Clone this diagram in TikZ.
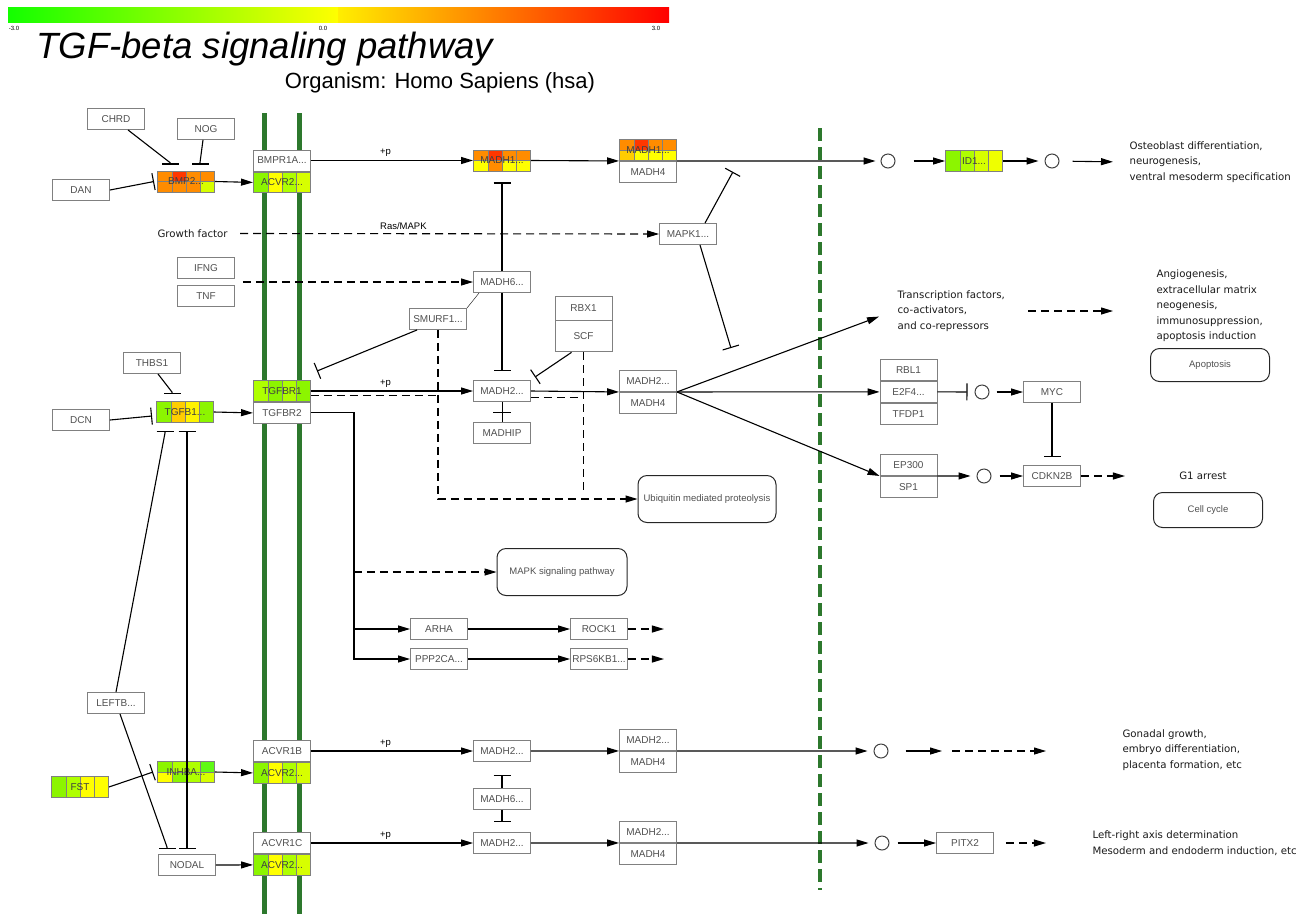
\documentclass[tikz,border=0pt]{standalone}
\usepackage{fontspec}
\setmainfont{Liberation Sans}
\newfontfamily\opisfamily{DejaVu Sans}
\usetikzlibrary{arrows.meta,calc,positioning}

\definecolor{membrana}{RGB}{45,120,45}
\definecolor{ramka}{RGB}{128,128,128}
\definecolor{napis}{RGB}{80,80,80}
\definecolor{ora}{RGB}{255,140,0}
\definecolor{czer}{RGB}{255,55,0}
\definecolor{zol}{RGB}{255,255,0}
\definecolor{zolc}{RGB}{255,205,0}
\definecolor{lim1}{RGB}{140,245,0}
\definecolor{lim2}{RGB}{175,255,0}
\definecolor{lim3}{RGB}{215,255,0}
\definecolor{ziel}{RGB}{95,250,20}

\newcommand{\gfont}{\fontsize{10}{11}\selectfont}
\newcommand{\opisfont}{\opisfamily\fontsize{10.2}{15.5}\selectfont}
\newcommand{\procfont}{\fontsize{9.5}{10}\selectfont}

\tikzset{
	gen/.style={draw=ramka, fill=white, line width=0.9, minimum width=57, minimum height=21, inner sep=0, font=\gfont, text=napis},
	jeden/.style={gen, text=black!75, path picture={
		\foreach \k [count=\i] in {#1}
			\filldraw[fill=\k, draw=ramka, line width=0.5] ($(path picture bounding box.north west)+({(\i-1)*14.25},0)$) rectangle ++(14.25,21);}},
	dwa/.style 2 args={gen, text=black!75, path picture={
		\foreach \k [count=\i] in {#1}
			\filldraw[fill=\k, draw=ramka, line width=0.5] ($(path picture bounding box.north west)+({(\i-1)*14.25},0)$) rectangle ++(14.25,10.5);
		\foreach \k [count=\i] in {#2}
			\filldraw[fill=\k, draw=ramka, line width=0.5] ($(path picture bounding box.north west)+({(\i-1)*14.25},10.5)$) rectangle ++(14.25,10.5);}},
	kolo/.style={circle, draw=black!75, line width=1, minimum size=14, inner sep=0},
	proc/.style={draw=black!85, line width=1, rounded corners=9, font=\procfont, text=napis},
	opis/.style={font=\opisfont, align=left, text=black!90},
	plusp/.style={font=\fontsize{9.5}{10}\selectfont, text=black},
	strz/.style={-{Triangle[length=12pt,width=7pt]}, line width=1.1},
	hamuj/.style={-{Bar[width=17pt]}, line width=1.1},
	przer/.style={dash pattern=on 8pt off 5pt}
}

\begin{document}
\begin{tikzpicture}[x=1pt, y=-1pt]
	\useasboundingbox (0,0) rectangle (1310,914);

	%skala kolorow
	\shade[left color=green!90!lime, right color=zol] (8,7) rectangle (338,22);
	\shade[left color=zol!85!ora, middle color=ora!90!yellow, right color=red] (338,7) rectangle (669,22);
	\node[font=\fontsize{6}{7}\selectfont] at (14,28) {-3.0};
	\node[font=\fontsize{6}{7}\selectfont] at (323,28) {0.0};
	\node[font=\fontsize{6}{7}\selectfont] at (656,28) {3.0};

	%tytul
	\node[anchor=base west, font=\fontsize{36.5}{40}\selectfont\itshape] at (33,58) {TGF-beta signaling pathway};
	\node[font=\fontsize{22}{26}\selectfont] at (440,83) {Organism: Homo Sapiens (hsa)};

	%membrana
	\draw[membrana, line width=5] (264,113) -- (264,914);
	\draw[membrana, line width=5] (299,113) -- (299,914);
	\draw[membrana, line width=4, dash pattern=on 13pt off 6pt] (820,128) -- (820,890);

	%bmp
	\node[gen] (chrd) at (116,119) {CHRD};
	\node[gen] (nog) at (206,129) {NOG};
	\node[gen] (dan) at (81,190) {DAN};
	\node[dwa={ora,czer,ora,ora}{ora,ora,ora,lim3}] (bmp2) at (186,181.5) {BMP2...};
	\node[gen] (bmpr1a) at (282,160.5) {BMPR1A...};
	\node[jeden={lim1,zol,lim2,lim3}, below=0pt of bmpr1a] (acvr2a) {ACVR2...};
	\node[dwa={ora,czer,ora,ora}{zol,ora,zol,zol}] (madh1) at (502,160.5) {MADH1...};
	\node[dwa={ora,czer,ora,ora}{zolc,zol,zol,zol}] (mc1) at (648,150) {MADH1...};
	\node[gen, below=0pt of mc1] (mc1b) {MADH4};
	\node[kolo] (k1) at (888,161) {};
	\node[jeden={lim1,lim2,lim3,zol!60!lim3}] (id1) at (974,161) {ID1...};
	\node[kolo] (k2) at (1052,161) {};
	\node[opis, anchor=west] (osteo) at (1126,162) {Osteoblast differentiation,\\neurogenesis,\\ventral mesoderm specification};

	%srodek
	\node[opis, anchor=west] (growth) at (154,233.5) {Growth factor};
	\node[gen] (mapk1) at (688,234) {MAPK1...};
	\node[gen] (ifng) at (206,268) {IFNG};
	\node[gen] (tnf) at (206,296) {TNF};
	\node[gen] (madh6) at (502,282) {MADH6...};
	\node[gen] (smurf1) at (438,319) {SMURF1...};
	\node[gen, minimum height=24] (rbx1) at (583.5,308) {RBX1};
	\node[gen, minimum height=31, below=0pt of rbx1] (scf) {SCF};

	%tgf-beta
	\node[gen] (thbs1) at (152,363) {THBS1};
	\node[gen] (dcn) at (81,420) {DCN};
	\node[jeden={lim1,zolc,zol!90!ora,lim1}] (tgfb1) at (185,412) {TGFB1...};
	\node[jeden={lim2,lim1,lim2,lim1}] (tgfbr1) at (282,391) {TGFBR1};
	\node[gen, below=0pt of tgfbr1] (tgfbr2) {TGFBR2};
	\node[gen] (madh2) at (502,391) {MADH2...};
	\node[gen] (madhip) at (502,433) {MADHIP};
	\node[gen] (mc2) at (648,381) {MADH2...};
	\node[gen, below=0pt of mc2] (mc2b) {MADH4};

	%prawa strona
	\node[opis, anchor=west] (tf) at (894,311) {Transcription factors,\\co-activators,\\and co-repressors};
	\node[opis, anchor=west] (angio) at (1153,306) {Angiogenesis,\\extracellular matrix\\neogenesis,\\immunosuppression,\\apoptosis induction};
	\node[proc, minimum width=119, minimum height=33] (apop) at (1210,365) {Apoptosis};
	\node[gen] (rbl1) at (908.5,370) {RBL1};
	\node[gen, below=0pt of rbl1] (e2f4) {E2F4...};
	\node[gen, below=0pt of e2f4] (tfdp1) {TFDP1};
	\node[kolo] (k3) at (982,392) {};
	\node[gen] (myc) at (1052,392) {MYC};
	\node[gen] (ep300) at (908.5,465) {EP300};
	\node[gen, below=0pt of ep300] (sp1) {SP1};
	\node[kolo] (k4) at (984,476) {};
	\node[gen] (cdkn2b) at (1052,476) {CDKN2B};
	\node[opis] (g1) at (1203,476) {G1 arrest};
	\node[proc, minimum width=109, minimum height=35] (cc) at (1208,510) {Cell cycle};
	\node[proc, minimum width=138, minimum height=47] (ubiq) at (707,499) {Ubiquitin mediated proteolysis};
	\node[proc, minimum width=130, minimum height=47] (mapkp) at (562,572) {MAPK signaling pathway};
	\node[gen] (arha) at (439,629) {ARHA};
	\node[gen] (rock1) at (599,629) {ROCK1};
	\node[gen] (ppp2ca) at (439,659) {PPP2CA...};
	\node[gen] (rps6kb1) at (599,659) {RPS6KB1...};

	%aktywina, nodal
	\node[gen] (leftb) at (116,703) {LEFTB...};
	\node[jeden={lim1,lim2,zol,zol}] (fst) at (80,787) {FST};
	\node[dwa={lim1,lim2,lim2,ziel}{zol,lim1,lim2,lim3}] (inhba) at (186,772) {INHBA...};
	\node[gen] (acvr1b) at (282,751) {ACVR1B};
	\node[jeden={lim1,zol,lim2,lim3}, below=0pt of acvr1b] (acvr2b) {ACVR2...};
	\node[gen] (madh2b) at (502,751) {MADH2...};
	\node[gen] (mc3) at (648,740) {MADH2...};
	\node[gen, below=0pt of mc3] (mc3b) {MADH4};
	\node[gen] (madh6b) at (502,799) {MADH6...};
	\node[kolo] (k5) at (881,751) {};
	\node[opis, anchor=west] (gonad) at (1119,750) {Gonadal growth,\\embryo differentiation,\\placenta formation, etc};
	\node[gen] (acvr1c) at (282,843) {ACVR1C};
	\node[jeden={lim1,zol,lim2,lim3}, below=0pt of acvr1c] (acvr2c) {ACVR2...};
	\node[gen] (nodal) at (187,865) {NODAL};
	\node[gen] (madh2c) at (502,843) {MADH2...};
	\node[gen] (mc4) at (648,832) {MADH2...};
	\node[gen, below=0pt of mc4] (mc4b) {MADH4};
	\node[kolo] (k6) at (882,843) {};
	\node[gen] (pitx2) at (965,843) {PITX2};
	\node[opis, anchor=west] (lr) at (1089,843) {Left-right axis determination\\Mesoderm and endoderm induction, etc};

	%polaczenia bmp
	\draw[hamuj] ($(chrd.south)+(12,0)$) -- ($(bmp2.north)+(-16,-8)$) -- ($(bmp2.north)+(-16,-6)$);
	\draw[hamuj] ($(nog.south)+(-3,0)$) -- ($(bmp2.north)+(14,-8)$) -- ($(bmp2.north)+(14,-6)$);
	\draw[hamuj] (dan.east) -- ($(bmp2.west)+(-3,0)$);
	\draw[strz] (bmp2.east) -- (acvr2a.west);
	\draw[strz] (bmpr1a.east) -- node[plusp, above, pos=0.46] {+p} (madh1.west);
	\draw[strz] (madh1.east) -- (mc1.south west);
	\draw[strz, shorten >=5] (mc1.south east) -- (k1);
	\draw[strz, shorten <=18] (k1) -- (id1.west);
	\draw[strz, shorten >=6] (id1.east) -- (k2);
	\draw[strz, shorten <=13, shorten >=13] (k2) -- (osteo.west);

	%polaczenia srodek
	\draw[strz, przer] ($(growth.west)+(86,0)$) -- node[plusp, above, pos=0.39] {Ras/MAPK} (mapk1.west);
	\draw[hamuj] ($(mapk1.north)+(17,0)$) -- ($(mc1b.south east)+(56,-11)$);
	\draw[hamuj] ($(mapk1.south)+(12,0)$) -- ($(mc2.north east)+(54,-22)$);
	\draw[hamuj] (madh6.north) -- ($(madh1.south)+(0,11)$);
	\draw[hamuj] (madh6.south) -- ($(madh2.north)+(0,-9)$);
	\draw[strz, przer] ($(ifng.east)!0.5!(tnf.east)+(8,0)$) -- (madh6.west);
	\draw (smurf1.north east) -- ($(madh6.south west)+(6,0)$);
	\draw[hamuj] ($(smurf1.south west)+(8,0)$) -- ($(tgfbr1.north east)+(6,-9)$);
	\draw[strz, przer] (smurf1.south) |- (ubiq.west);
	\coordinate (t1d) at ($(tgfbr1.east)+(0,4)$);
	\draw[przer] (t1d) -- (smurf1.south |- t1d);
	\draw[hamuj] ($(scf.south west)+(17,0)$) -- ($(madh2.north east)+(4,-3)$);
	\draw[przer] (scf.south) -- ($(scf.south |- ubiq.west)+(0,-4)$);
	\coordinate (m2d) at ($(madh2.east)+(0,6)$);
	\draw[przer] (m2d) -- (scf.south |- m2d);

	%polaczenia tgf-beta
	\draw[strz] (tgfbr1.east) -- node[plusp, above, pos=0.46] {+p} (madh2.west);
	\draw (madh2.south) -- (madhip.north);
	\draw ($(madh2.south)!0.5!(madhip.north)+(-9,0)$) -- ++(18,0);
	\draw[strz] (madh2.east) -- (mc2.south west);
	\draw[strz, shorten >=16] (mc2.south east) -- (tf.west);
	\draw[strz] (mc2.south east) -- (e2f4.west);
	\draw[strz] (mc2.south east) -- (sp1.north west);
	\draw[strz, przer] ($(tf.west)+(134,0)$) -- ++(85,0);
	\draw[hamuj, shorten >=7] (e2f4.east) -- (k3);
	\draw[strz, shorten <=7] (k3) -- (myc.west);
	\draw[hamuj] (myc.south) -- ($(cdkn2b.north)+(0,-8)$);
	\draw[strz, shorten >=6] (sp1.north east) -- (k4);
	\draw[strz, shorten <=8] (k4) -- (cdkn2b.west);
	\draw[strz, przer] (cdkn2b.east) -- ++(44,0);

	%galaz mapk
	\coordinate (r0) at ($(tgfbr2.east)+(43,0)$);
	\draw[strz] (tgfbr2.east) -- (r0) |- (ppp2ca.west);
	\draw[strz] (r0 |- arha.west) -- (arha.west);
	\draw[strz, przer] (r0 |- mapkp.west) -- (mapkp.west);
	\draw[strz] (arha) -- (rock1);
	\draw[strz] (ppp2ca) -- (rps6kb1);
	\draw[strz, przer] (rock1.east) -- ++(36,0);
	\draw[strz, przer] (rps6kb1.east) -- ++(36,0);

	%lewa strona
	\draw[hamuj] ($(thbs1.south)+(6,0)$) -- ($(tgfb1.north)+(-13,-9)$) -- ($(tgfb1.north)+(-13,-7)$);
	\draw[hamuj] (dcn.east) -- ($(tgfb1.west)+(-4,4)$);
	\draw[strz] (tgfb1.east) -- (tgfbr2.west);
	\draw[hamuj] (leftb.north) -- ($(tgfb1.south)+(-20,10)$) -- ($(tgfb1.south)+(-20,8)$);
	\draw[{Bar[width=17pt]}-{Bar[width=17pt]}, line width=1.1] ($(tgfb1.south)+(2,8)$) -- ($(nodal.north)+(0,-5)$);
	\draw[hamuj] ($(leftb.south)+(4,0)$) -- ($(nodal.north)+(-20,-7)$) -- ($(nodal.north)+(-20,-5)$);
	\draw[hamuj] (fst.east) -- ($(inhba.west)+(-4,0)$);
	\draw[strz] (inhba.east) -- (acvr2b.west);
	\draw[strz] (nodal.east) -- (acvr2c.west);

	%polaczenia dol
	\draw[strz] (acvr1b.east) -- node[plusp, above, pos=0.46] {+p} (madh2b.west);
	\draw[strz] (acvr1c.east) -- node[plusp, above, pos=0.46] {+p} (madh2c.west);
	\draw[strz] (madh2b.east) -- (mc3.south west);
	\draw[strz] (madh2c.east) -- (mc4.south west);
	\draw[hamuj] (madh6b.north) -- ($(madh2b.south)+(0,13)$);
	\draw[hamuj] (madh6b.south) -- ($(madh2c.north)+(0,-10)$);
	\draw[strz, shorten >=6] (mc3.south east) -- (k5);
	\draw[strz, shorten <=17] (k5) -- ++(61,0);
	\draw[strz, przer] ($(k5)+(71,0)$) -- ++(94,0);
	\draw[strz, shorten >=6] (mc4.south east) -- (k6);
	\draw[strz, shorten <=8] (k6) -- (pitx2.west);
	\draw[strz, przer] ($(pitx2.east)+(12,0)$) -- ++(40,0);
\end{tikzpicture}
\end{document}
